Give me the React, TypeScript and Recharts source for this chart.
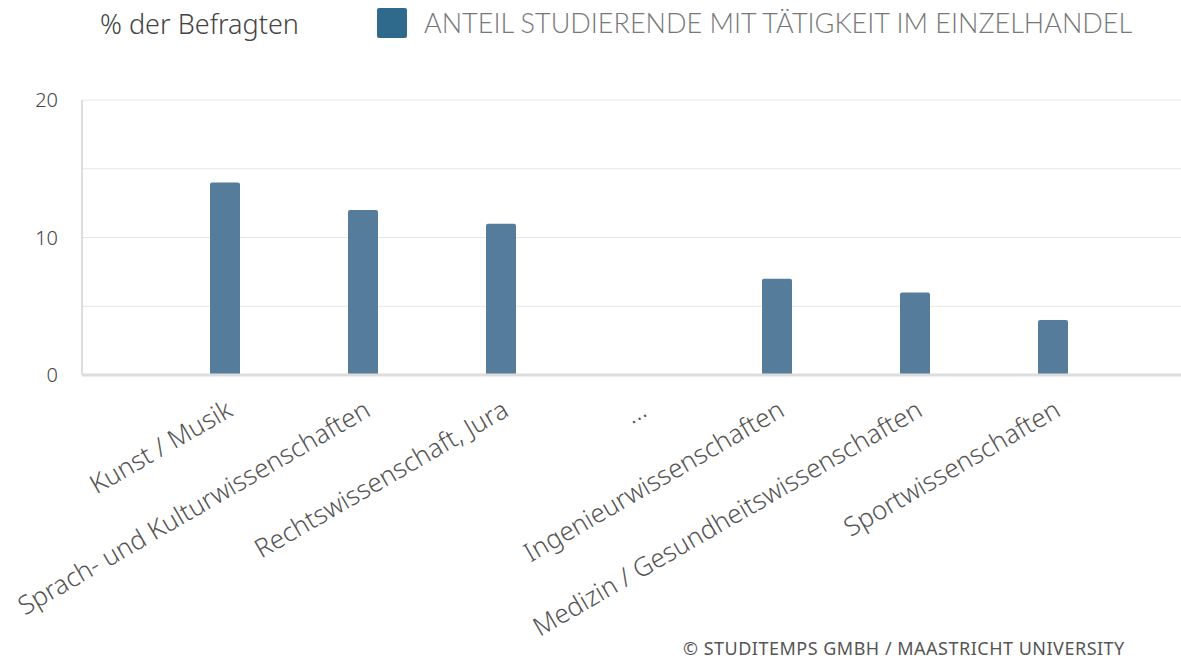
import React from "react";
import { BarChart, Bar, XAxis, YAxis, CartesianGrid } from "recharts";

// Anteil Studierende mit Tätigkeit im Einzelhandel, nach Studienfach
const categories = [
  "Kunst / Musik",
  "Sprach- und Kulturwissenschaften",
  "Rechtswissenschaft, Jura",
  "...",
  "Ingenieurwissenschaften",
  "Medizin / Gesundheitswissenschaften",
  "Sportwissenschaften",
];
const shares: (number | null)[] = [14, 12, 11, null, 7, 6, 4];
const yTicks = [0, 5, 10, 15, 20];
const yLabelled = [0, 10, 20];

const BAR = "#567c9c";
const FONT = "'Noto Sans', sans-serif";

export default function App() {
  const data = categories.map((name, i) => ({ name, value: shares[i] }));

  return (
    <div style={{ position: "absolute", left: 0, top: 0, width: 1181, height: 663, overflow: "hidden", background: "#fff" }}>
      {/* axis title + legend */}
      <div style={{ position: "absolute", left: 100, top: 5, fontFamily: FONT, fontWeight: 300, fontSize: 27, color: "#444" }}>
        % der Befragten
      </div>
      <div style={{ position: "absolute", left: 377, top: 8, width: 30, height: 30, background: "#2f6a8d", borderRadius: 2 }} />
      <div style={{ position: "absolute", left: 424, top: 6, fontFamily: "Lato, sans-serif", fontWeight: 300, fontSize: 27, color: "#777", whiteSpace: "nowrap" }}>
        ANTEIL STUDIERENDE MIT TÄTIGKEIT IM EINZELHANDEL
      </div>

      <BarChart width={1181} height={663} data={data} margin={{ top: 100, right: 0, bottom: 0, left: 22 }}>
        <CartesianGrid vertical={false} stroke="#e6e6e6" />
        <YAxis
          width={60}
          domain={[0, 20]}
          ticks={yTicks}
          tickFormatter={(v) => (yLabelled.includes(v) ? String(v) : "")}
          axisLine={{ stroke: "#ddd", strokeWidth: 2 }}
          tickLine={false}
          tickSize={0}
          tickMargin={24}
          tick={{ fill: "#444", fontSize: 20, fontFamily: FONT, fontWeight: 300 }}
        />
        <XAxis
          dataKey="name"
          interval={0}
          angle={-30}
          textAnchor="end"
          height={288}
          padding={{ left: 74, right: 59 }}
          tickLine={false}
          tickSize={0}
          tickMargin={24}
          axisLine={{ stroke: "#ddd", strokeWidth: 3 }}
          tick={{ fill: "#555", fontSize: 26, fontFamily: FONT, fontWeight: 300 }}
        />
        <Bar dataKey="value" fill={BAR} barSize={30} radius={[2, 2, 0, 0]} isAnimationActive={false} />
      </BarChart>

      {/* source line, kept inside the frame */}
      <div style={{ position: "absolute", left: 683, top: 636, fontFamily: FONT, fontSize: 18, color: "#555", letterSpacing: 0.5, whiteSpace: "nowrap" }}>
        © STUDITEMPS GMBH / MAASTRICHT UNIVERSITY
      </div>
    </div>
  );
}
